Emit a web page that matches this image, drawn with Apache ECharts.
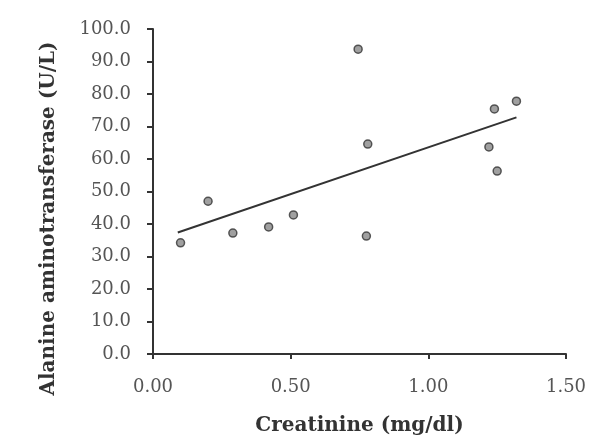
<!DOCTYPE html>
<html>
<head>
<meta charset="utf-8">
<script src="https://cdn.jsdelivr.net/npm/echarts@6/dist/echarts.min.js"></script>
<style>
html,body{margin:0;padding:0;background:#fff;}
#chart{width:589px;height:438px;}
</style>
</head>
<body>
<div id="chart"></div>
<script>
// Creatinine (mg/dl) values
const creatinine = [0.10, 0.20, 0.29, 0.42, 0.51, 0.745, 0.775, 0.78, 1.22, 1.24, 1.25, 1.32];
// Alanine aminotransferase (U/L) values
const alt = [34.2, 47.0, 37.2, 39.1, 42.8, 93.8, 36.3, 64.6, 63.7, 75.4, 56.3, 77.8];
// Linear trendline endpoints
const trendX = [0.09, 1.32];
const trendY = [37.4, 72.8];

const xTicks = [0, 0.5, 1.0, 1.5];
const yTicks = [0, 10, 20, 30, 40, 50, 60, 70, 80, 90, 100];

const points = creatinine.map((x, i) => [x, alt[i]]);
const trend = trendX.map((x, i) => [x, trendY[i]]);

const chart = echarts.init(document.getElementById('chart'), null, {renderer: 'canvas'});
const serif = '"DejaVu Serif", "Liberation Serif", serif';
chart.setOption({
  backgroundColor: '#fff',
  animation: false,
  grid: {left: 153, right: 23, top: 29, bottom: 84, containLabel: false, outerBoundsMode: 'none'},
  xAxis: {
    type: 'value',
    min: xTicks[0], max: xTicks[xTicks.length - 1], interval: 0.5,
    name: 'Creatinine (mg/dl)',
    nameLocation: 'middle',
    nameGap: 62,
    nameTextStyle: {fontFamily: serif, fontWeight: 'bold', fontSize: 20, color: '#333'},
    axisLine: {lineStyle: {color: '#333', width: 2}},
    axisTick: {show: true, length: 5, lineStyle: {color: '#333', width: 2}},
    axisLabel: {fontFamily: serif, fontSize: 18, color: '#555', margin: 24,
      formatter: v => v.toFixed(2)},
    splitLine: {show: false}
  },
  yAxis: {
    type: 'value',
    min: yTicks[0], max: yTicks[yTicks.length - 1], interval: 10,
    name: 'Alanine aminotransferase (U/L)',
    nameLocation: 'middle',
    nameGap: 94,
    nameRotate: 90,
    nameTextStyle: {fontFamily: serif, fontWeight: 'bold', fontSize: 20, color: '#333',
      padding: [0, 54, 0, 0]},
    axisLine: {lineStyle: {color: '#333', width: 2}},
    axisTick: {show: true, length: 6, lineStyle: {color: '#333', width: 2}},
    axisLabel: {fontFamily: serif, fontSize: 18, color: '#555', margin: 22,
      formatter: v => v.toFixed(1)},
    splitLine: {show: false}
  },
  series: [
    {
      type: 'scatter',
      data: points,
      symbol: 'circle',
      symbolSize: 8,
      itemStyle: {color: '#888', borderColor: '#333', borderWidth: 1.5},
      z: 3
    },
    {
      type: 'line',
      data: trend,
      symbol: 'none',
      lineStyle: {color: '#333', width: 2},
      z: 2
    }
  ]
});
</script>
</body>
</html>
